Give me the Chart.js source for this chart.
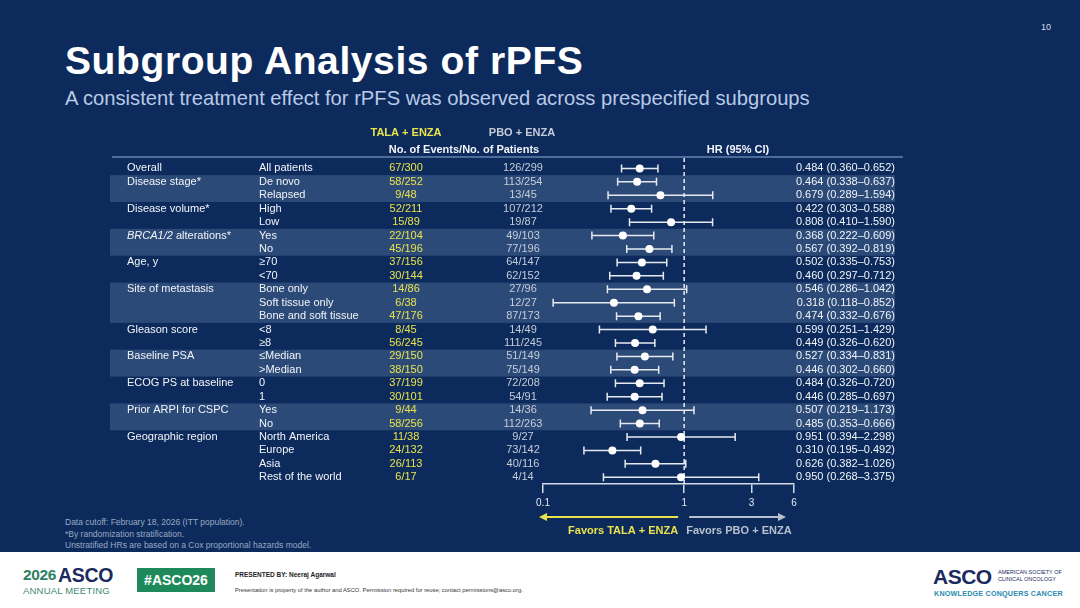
<!DOCTYPE html>
<html>
<head>
<meta charset="utf-8">
<script src="https://cdn.jsdelivr.net/npm/chart.js@4.4.1/dist/chart.umd.min.js"></script>
<style>
  html, body { margin: 0; padding: 0; }
  body { width: 1080px; height: 608px; background: #0c2b5c; position: relative; overflow: hidden;
         font-family: "Liberation Sans", Arial, sans-serif; }
  #wrap { position: absolute; left: 0; top: 0; width: 1080px; height: 608px; }
  .abs { position: absolute; white-space: nowrap; }
  #title { left: 65px; top: 39px; font-size: 39px; letter-spacing: 0.6px; font-weight: bold; color: #fff; }
  #subtitle { left: 65px; top: 87px; font-size: 20.2px; color: #b9c9e6; }
  #pagenum { left: 1041px; top: 22px; font-size: 9px; color: #d6deea; }
  #notes { left: 65px; top: 517px; font-size: 8.5px; line-height: 11.5px; color: #9aa9c2; }
  #footer { left: 0; top: 552px; width: 1080px; height: 56px; background: #fff; }
</style>
</head>
<body>
<div id="footer" class="abs">
  <div class="abs" style="left:23px;top:14px;font-size:15.5px;font-weight:bold;color:#2e7f62;letter-spacing:-0.4px;">2026</div>
  <div class="abs" style="left:58px;top:12px;font-size:19.5px;font-weight:bold;color:#1a2a5e;letter-spacing:-0.3px;">ASCO</div>
  <div class="abs" style="left:23px;top:33px;font-size:9.5px;color:#3f8a70;letter-spacing:0.2px;">ANNUAL MEETING</div>
  <div class="abs" style="left:137px;top:16px;width:78px;height:24px;background:#1e8a5c;color:#fff;font-weight:bold;font-size:14px;line-height:24px;text-align:center;">#ASCO26</div>
  <div class="abs" style="left:235px;top:19px;font-size:6.5px;font-weight:bold;color:#222;">PRESENTED BY: Neeraj Agarwal</div>
  <div class="abs" style="left:235px;top:35px;font-size:5.8px;color:#333;">Presentation is property of the author and ASCO. Permission required for reuse; contact permissions@asco.org.</div>
  <div class="abs" style="left:933px;top:13px;font-size:21px;font-weight:bold;color:#1a2a5e;letter-spacing:-0.5px;">ASCO</div>
  <div class="abs" style="left:998px;top:17px;font-size:5.5px;line-height:6.5px;color:#1a2a5e;">AMERICAN SOCIETY OF<br>CLINICAL ONCOLOGY</div>
  <div class="abs" style="left:934px;top:37px;font-size:7.2px;font-weight:bold;color:#2a8ab0;letter-spacing:0.2px;">KNOWLEDGE CONQUERS CANCER</div>
</div>
<div id="title" class="abs">Subgroup Analysis of rPFS</div>
<div id="subtitle" class="abs">A consistent treatment effect for rPFS was observed across prespecified subgroups</div>
<div id="pagenum" class="abs">10</div>
<div id="notes" class="abs">Data cutoff: February 18, 2026 (ITT population).<br>*By randomization stratification.<br>Unstratified HRs are based on a Cox proportional hazards model.</div>
<div id="wrap"><canvas id="chart" width="1080" height="608"></canvas></div>

<script>
// subgroup rows, top to bottom
const groups = ["Overall", "Disease stage*", "Disease volume*", "BRCA1/2 alterations*", "Age, y",
  "Site of metastasis", "Gleason score", "Baseline PSA", "ECOG PS at baseline",
  "Prior ARPI for CSPC", "Geographic region"];
const groupSizes = [1, 2, 2, 2, 2, 3, 2, 2, 2, 2, 4];
const subgroups = ["All patients", "De novo", "Relapsed", "High", "Low", "Yes", "No", "≥70", "<70",
  "Bone only", "Soft tissue only", "Bone and soft tissue", "<8", "≥8", "≤Median", ">Median",
  "0", "1", "Yes", "No", "North America", "Europe", "Asia", "Rest of the world"];
const talaEvents = ["67/300", "58/252", "9/48", "52/211", "15/89", "22/104", "45/196", "37/156",
  "30/144", "14/86", "6/38", "47/176", "8/45", "56/245", "29/150", "38/150", "37/199", "30/101",
  "9/44", "58/256", "11/38", "24/132", "26/113", "6/17"];
const pboEvents = ["126/299", "113/254", "13/45", "107/212", "19/87", "49/103", "77/196", "64/147",
  "62/152", "27/96", "12/27", "87/173", "14/49", "111/245", "51/149", "75/149", "72/208", "54/91",
  "14/36", "112/263", "9/27", "73/142", "40/116", "4/14"];
const hr = [0.484, 0.464, 0.679, 0.422, 0.808, 0.368, 0.567, 0.502, 0.460, 0.546, 0.318, 0.474,
  0.599, 0.449, 0.527, 0.446, 0.484, 0.446, 0.507, 0.485, 0.951, 0.310, 0.626, 0.950];
const hrLow = [0.360, 0.338, 0.289, 0.303, 0.410, 0.222, 0.392, 0.335, 0.297, 0.286, 0.118, 0.332,
  0.251, 0.326, 0.334, 0.302, 0.326, 0.285, 0.219, 0.353, 0.394, 0.195, 0.382, 0.268];
const hrHigh = [0.652, 0.637, 1.594, 0.588, 1.590, 0.609, 0.819, 0.753, 0.712, 1.042, 0.852, 0.676,
  1.429, 0.620, 0.831, 0.660, 0.720, 0.697, 1.173, 0.666, 2.298, 0.492, 1.026, 3.375];
const xTicks = [0.1, 1, 3, 6];

const FONT = '"Liberation Sans", Arial, sans-serif';
const WHITE = '#f2f4f8';
const YELLOW = '#e9e24c';
const GREY = '#c5ccd8';
const BAND = '#2c4a78';

// first row index of each group
const groupStart = [];
groupSizes.reduce((acc, n) => { groupStart.push(acc); return acc + n; }, 0);

const fmt = v => v.toFixed(3);

const forestPlugin = {
  id: 'forest',
  beforeDraw(chart) {
    const ctx = chart.ctx, y = chart.scales.y, area = chart.chartArea;
    ctx.save();
    // shaded bands for alternating groups
    ctx.fillStyle = BAND;
    groups.forEach((g, gi) => {
      if (gi % 2 === 1) {
        const top = y.getPixelForValue(groupStart[gi] - 0.5);
        const bot = y.getPixelForValue(groupStart[gi] + groupSizes[gi] - 0.5);
        ctx.fillRect(110, top, 785, bot - top);
      }
    });
    // header rule
    ctx.strokeStyle = '#8eaed6';
    ctx.lineWidth = 1.2;
    ctx.beginPath();
    ctx.moveTo(112, area.top);
    ctx.lineTo(903, area.top);
    ctx.stroke();
    // header text
    ctx.textBaseline = 'middle';
    ctx.textAlign = 'center';
    ctx.font = 'bold 11px ' + FONT;
    ctx.fillStyle = YELLOW;
    ctx.fillText('TALA + ENZA', 406, area.top - 24);
    ctx.fillStyle = GREY;
    ctx.fillText('PBO + ENZA', 522, area.top - 24);
    ctx.fillStyle = WHITE;
    ctx.fillText('No. of Events/No. of Patients', 464, area.top - 7);
    ctx.fillText('HR (95% CI)', 738, area.top - 7);
    ctx.restore();
  },
  beforeDatasetsDraw(chart) {
    const ctx = chart.ctx, x = chart.scales.x, y = chart.scales.y, area = chart.chartArea;
    ctx.save();
    // reference line at HR = 1
    const x1 = x.getPixelForValue(1);
    ctx.strokeStyle = '#e8ecf2';
    ctx.lineWidth = 1.5;
    ctx.setLineDash([4, 3]);
    ctx.beginPath();
    ctx.moveTo(x1, area.top + 1);
    ctx.lineTo(x1, area.bottom);
    ctx.stroke();
    ctx.setLineDash([]);
    // confidence intervals
    ctx.strokeStyle = '#e6eaf0';
    ctx.lineWidth = 1.5;
    hr.forEach((v, i) => {
      const py = y.getPixelForValue(i);
      const a = x.getPixelForValue(hrLow[i]);
      const b = x.getPixelForValue(hrHigh[i]);
      ctx.beginPath();
      ctx.moveTo(a, py); ctx.lineTo(b, py);
      ctx.moveTo(a, py - 4); ctx.lineTo(a, py + 4);
      ctx.moveTo(b, py - 4); ctx.lineTo(b, py + 4);
      ctx.stroke();
    });
    ctx.restore();
  },
  afterDraw(chart) {
    const ctx = chart.ctx, x = chart.scales.x, y = chart.scales.y, area = chart.chartArea;
    ctx.save();
    ctx.textBaseline = 'middle';
    ctx.font = '11px ' + FONT;
    // group labels
    groups.forEach((g, gi) => {
      const py = y.getPixelForValue(groupStart[gi]);
      ctx.fillStyle = WHITE;
      ctx.textAlign = 'left';
      if (g.startsWith('BRCA1/2')) {
        ctx.font = 'italic 11px ' + FONT;
        ctx.fillText('BRCA1/2', 127, py);
        const w = ctx.measureText('BRCA1/2').width;
        ctx.font = '11px ' + FONT;
        ctx.fillText(g.slice(7), 127 + w, py);
      } else {
        ctx.fillText(g, 127, py);
      }
    });
    // row texts
    subgroups.forEach((s, i) => {
      const py = y.getPixelForValue(i);
      ctx.textAlign = 'left';
      ctx.fillStyle = WHITE;
      ctx.fillText(s, 259, py);
      ctx.textAlign = 'center';
      ctx.fillStyle = YELLOW;
      ctx.fillText(talaEvents[i], 406, py);
      ctx.fillStyle = GREY;
      ctx.fillText(pboEvents[i], 523, py);
      ctx.textAlign = 'right';
      ctx.fillStyle = WHITE;
      ctx.fillText(fmt(hr[i]) + ' (' + fmt(hrLow[i]) + '\u2013' + fmt(hrHigh[i]) + ')', 895, py);
    });
    // favors arrows
    const x1 = x.getPixelForValue(1);
    const ay = area.bottom + 33;
    const arrow = (from, to, color) => {
      const dir = Math.sign(to - from);
      ctx.strokeStyle = color;
      ctx.fillStyle = color;
      ctx.lineWidth = 2.2;
      ctx.beginPath();
      ctx.moveTo(from, ay); ctx.lineTo(to - dir * 6, ay);
      ctx.stroke();
      ctx.beginPath();
      ctx.moveTo(to, ay);
      ctx.lineTo(to - dir * 8, ay - 4);
      ctx.lineTo(to - dir * 8, ay + 4);
      ctx.closePath();
      ctx.fill();
    };
    arrow(x1 - 6, x.getPixelForValue(0.1) - 4, YELLOW);
    arrow(x1 + 5, x.getPixelForValue(6) - 8, '#b8c0cc');
    ctx.font = 'bold 11px ' + FONT;
    ctx.textAlign = 'right';
    ctx.fillStyle = YELLOW;
    ctx.fillText('Favors TALA + ENZA', x1 - 6, ay + 14);
    ctx.textAlign = 'left';
    ctx.fillStyle = '#b8c0cc';
    ctx.fillText('Favors PBO + ENZA', x1 + 2, ay + 14);
    ctx.restore();
  }
};

new Chart(document.getElementById('chart'), {
  type: 'scatter',
  data: {
    datasets: [{
      data: hr.map((v, i) => ({ x: v, y: i })),
      pointRadius: 4,
      pointHoverRadius: 4,
      pointBackgroundColor: '#ffffff',
      pointBorderColor: '#ffffff',
      pointBorderWidth: 0
    }]
  },
  options: {
    responsive: false,
    animation: false,
    layout: { padding: { left: 543, right: 286, top: 157, bottom: 0 } },
    plugins: { legend: { display: false }, tooltip: { enabled: false } },
    scales: {
      x: {
        type: 'logarithmic',
        min: 0.1,
        max: 6,
        afterBuildTicks: scale => { scale.ticks = xTicks.map(v => ({ value: v })); },
        afterFit: scale => { scale.height = 124; },
        grid: { drawOnChartArea: false, drawTicks: true, tickLength: 9, color: '#d4dae4', lineWidth: 1.5 },
        border: { display: true, color: '#d4dae4', width: 1.5 },
        ticks: {
          color: '#e6eaf0',
          font: { family: FONT, size: 10 },
          padding: 4,
          maxRotation: 0,
          autoSkip: false,
          callback: v => String(v)
        }
      },
      y: {
        type: 'linear',
        reverse: true,
        min: -0.85,
        max: 23.5,
        display: false
      }
    }
  },
  plugins: [forestPlugin]
});
</script>
</body>
</html>
